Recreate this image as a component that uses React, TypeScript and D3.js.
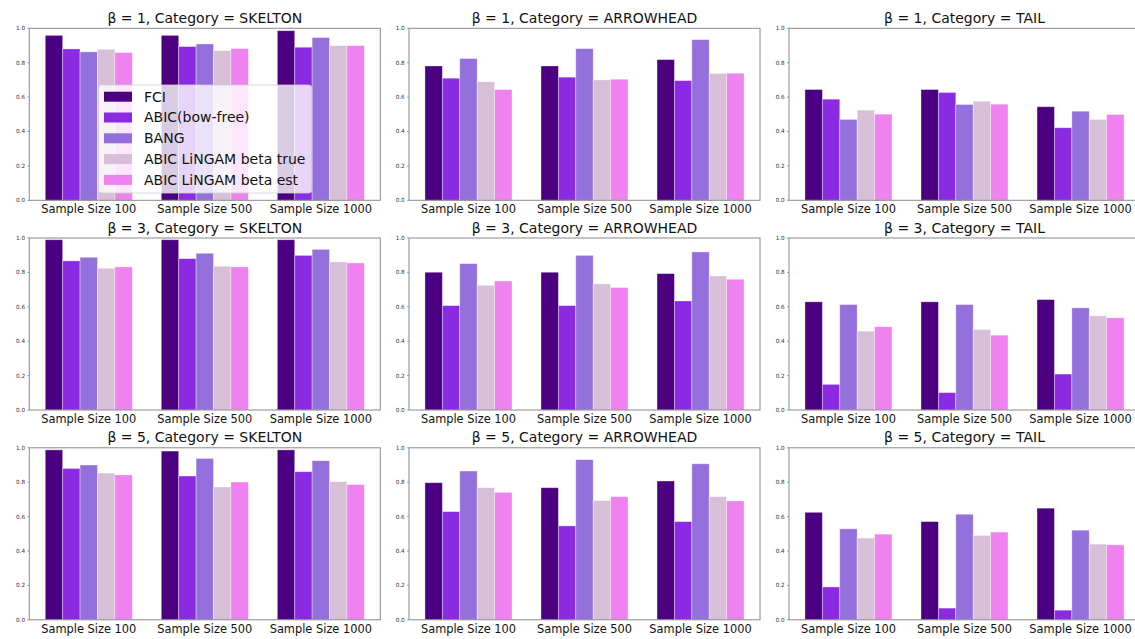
import React from "react";
import * as d3 from "d3";

// Methods (legend order) and their colours
const methods = ["FCI", "ABIC(bow-free)", "BANG", "ABIC LiNGAM beta true", "ABIC LiNGAM beta est"];
const colors = ["#4B0082", "#8A2BE2", "#9370DB", "#D8BFD8", "#EE82EE"];

const sampleSizes = ["Sample Size 100", "Sample Size 500", "Sample Size 1000"];
const betas = [1, 3, 5];
const categories = ["SKELTON", "ARROWHEAD", "TAIL"];
const yTicks = [0, 0.2, 0.4, 0.6, 0.8, 1.0];

// Scores per sample size, one row per sample size, columns follow `methods`
const b1Skelton = [
  [0.959, 0.88, 0.863, 0.878, 0.859],
  [0.959, 0.894, 0.909, 0.87, 0.882],
  [0.986, 0.89, 0.946, 0.899, 0.899],
];
const b1Arrowhead = [
  [0.781, 0.71, 0.824, 0.689, 0.644],
  [0.781, 0.716, 0.882, 0.7, 0.704],
  [0.818, 0.696, 0.934, 0.737, 0.739],
];
const b1Tail = [
  [0.644, 0.588, 0.47, 0.524, 0.501],
  [0.644, 0.627, 0.557, 0.576, 0.559],
  [0.544, 0.422, 0.518, 0.47, 0.499],
];
const b3Skelton = [
  [0.99, 0.867, 0.888, 0.824, 0.832],
  [0.99, 0.88, 0.911, 0.836, 0.832],
  [0.99, 0.899, 0.934, 0.861, 0.855],
];
const b3Arrowhead = [
  [0.801, 0.607, 0.851, 0.725, 0.75],
  [0.801, 0.607, 0.899, 0.733, 0.712],
  [0.793, 0.634, 0.919, 0.779, 0.76],
];
const b3Tail = [
  [0.629, 0.149, 0.613, 0.458, 0.484],
  [0.629, 0.101, 0.613, 0.468, 0.435],
  [0.642, 0.209, 0.594, 0.547, 0.536],
];
const b5Skelton = [
  [0.988, 0.88, 0.9, 0.853, 0.842],
  [0.981, 0.836, 0.938, 0.772, 0.801],
  [0.988, 0.861, 0.925, 0.803, 0.786],
];
const b5Arrowhead = [
  [0.797, 0.629, 0.865, 0.768, 0.741],
  [0.768, 0.546, 0.931, 0.693, 0.716],
  [0.807, 0.571, 0.907, 0.716, 0.691],
];
const b5Tail = [
  [0.625, 0.191, 0.529, 0.475, 0.498],
  [0.571, 0.068, 0.614, 0.49, 0.51],
  [0.649, 0.056, 0.521, 0.44, 0.436],
];

const grid = [
  [b1Skelton, b1Arrowhead, b1Tail],
  [b3Skelton, b3Arrowhead, b3Tail],
  [b5Skelton, b5Arrowhead, b5Tail],
];

const W = 1135;
const H = 639;
const FONT = "'DejaVu Sans', sans-serif";
const panelLefts = [29.3, 409, 789];
const panelTops = [28.3, 238, 447.8];
const panelW = 351;
const panelH = 172;
const barW = 0.15;

function Panel({ left, top, data, title, showLegend }) {
  const x = d3.scaleLinear().domain([-0.5125, 2.5125]).range([left, left + panelW]);
  const y = d3.scaleLinear().domain([0, 1]).range([top + panelH, top]);
  const unit = x(1) - x(0);
  const spine = "#8a8a8a";
  return (
    <g>
      <text x={left + panelW / 2} y={top - 5.5} textAnchor="middle" fontSize={14} fontFamily={FONT} fill="#111">
        {title}
      </text>
      {data.map((row, gi) =>
        row.map((v, mi) => (
          <rect
            key={`${gi}-${mi}`}
            x={x(gi + (mi - 2) * barW - barW / 2)}
            y={y(v)}
            width={barW * unit}
            height={y(0) - y(v)}
            fill={colors[mi]}
            stroke="rgba(255,255,255,0.45)"
            strokeWidth={0.8}
          />
        ))
      )}
      <rect x={left} y={top} width={panelW} height={panelH} fill="none" stroke={spine} strokeWidth={1} />
      {yTicks.map((t) => (
        <g key={t}>
          <line x1={left - 2} x2={left} y1={y(t)} y2={y(t)} stroke={spine} strokeWidth={0.8} />
          <text x={left - 4.3} y={y(t)} dy="0.35em" textAnchor="end" fontSize={5.7} fontFamily={FONT} fill="#333">
            {d3.format(".1f")(t)}
          </text>
        </g>
      ))}
      {sampleSizes.map((s, i) => (
        <text key={s} x={x(i)} y={top + panelH + 12.8} textAnchor="middle" fontSize={11.4} fontFamily={FONT} fill="#111">
          {s}
        </text>
      ))}
      {showLegend && (
        <g>
          <rect x={98.7} y={85} width={213} height={108} rx={3} fill="rgba(255,255,255,0.8)" stroke="#d0d0d0" strokeWidth={0.8} />
          {methods.map((m, i) => {
            const cy = 96.7 + i * 20.8;
            return (
              <g key={m}>
                <rect x={104} y={cy - 5} width={28} height={10} fill={colors[i]} />
                <text x={144} y={cy} dy="0.35em" fontSize={14} fontFamily={FONT} fill="#111">
                  {m}
                </text>
              </g>
            );
          })}
        </g>
      )}
    </g>
  );
}

export default function App() {
  return (
    <svg width={W} height={H} style={{ position: "absolute", left: 0, top: 0, background: "#fff" }}>
      <rect width={W} height={H} fill="#fff" />
      {betas.map((b, ri) =>
        categories.map((c, ci) => (
          <Panel
            key={`${ri}-${ci}`}
            left={panelLefts[ci]}
            top={panelTops[ri]}
            data={grid[ri][ci]}
            title={`β = ${b}, Category = ${c}`}
            showLegend={ri === 0 && ci === 0}
          />
        ))
      )}
    </svg>
  );
}
